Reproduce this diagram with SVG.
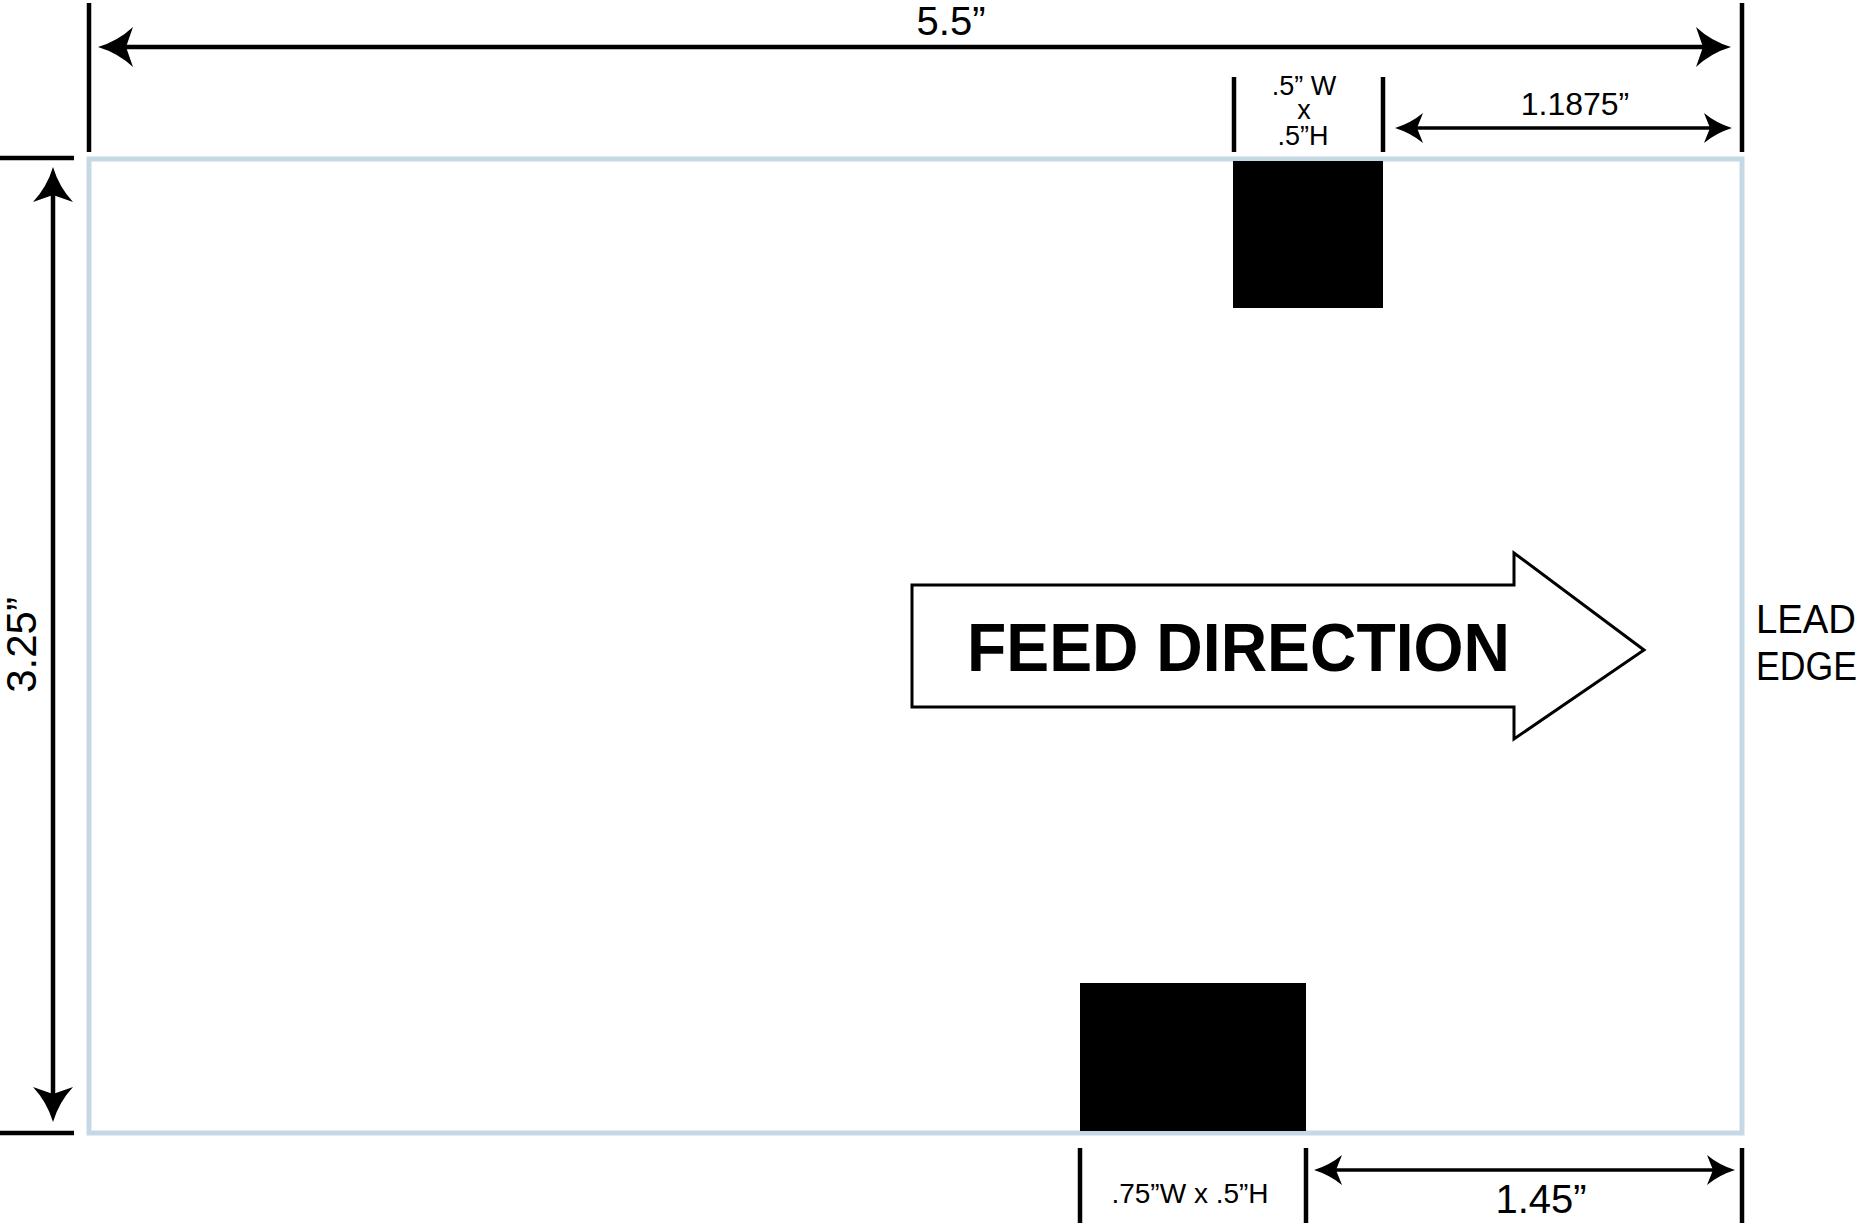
<svg xmlns="http://www.w3.org/2000/svg" width="1867" height="1223" viewBox="0 0 1867 1223">
<style>
.ext{stroke:#000;stroke-width:4.5;fill:none}
.dim{stroke:#000;stroke-width:4.5;fill:none}
.dims{stroke:#000;stroke-width:3.5;fill:none}
.t{font-family:"Liberation Sans",Arial,Helvetica,sans-serif;fill:#000}
</style>
<defs>
<marker id="ab" markerUnits="userSpaceOnUse" viewBox="-40 -22 44 44" markerWidth="44" markerHeight="44" refX="-10" refY="0" orient="auto-start-reverse">
<path d="M0,0 Q-20,-6 -35,-20 L-28,0 L-35,20 Q-20,6 0,0 Z" fill="#000"/>
</marker>
<marker id="as" markerUnits="userSpaceOnUse" viewBox="-32 -17 36 34" markerWidth="36" markerHeight="34" refX="-8" refY="0" orient="auto-start-reverse">
<path d="M0,0 Q-16,-5 -28,-15 L-22,0 L-28,15 Q-16,5 0,0 Z" fill="#000"/>
</marker>
</defs>
<rect width="1867" height="1223" fill="#fff"/>

<g id="card">
<rect x="89" y="159" width="1653" height="974" fill="#fff" stroke="#c5d9e5" stroke-width="5"/>
</g>

<g id="mark-top">
<rect x="1233" y="161" width="150" height="147" fill="#000"/>
</g>
<g id="mark-bottom">
<rect x="1080" y="983" width="226" height="148" fill="#000"/>
</g>

<g id="feed-arrow">
<polygon points="912,585 1514,585 1514,553 1644,650 1514,739 1514,707 912,707" fill="#fff" stroke="#000" stroke-width="3"/>
<text class="t" x="967" y="671" font-size="68" font-weight="bold" textLength="543" lengthAdjust="spacingAndGlyphs">FEED DIRECTION</text>
</g>

<g id="lead-edge">
<text class="t" x="1756" y="633" font-size="40" textLength="100" lengthAdjust="spacingAndGlyphs">LEAD</text>
<text class="t" x="1756" y="680" font-size="40" textLength="101" lengthAdjust="spacingAndGlyphs">EDGE</text>
</g>

<g id="connectors">
<line class="ext" x1="89" y1="3" x2="89" y2="152"/>
<line class="ext" x1="1742" y1="3" x2="1742" y2="152"/>
<line class="ext" x1="1234" y1="77" x2="1234" y2="152"/>
<line class="ext" x1="1383" y1="77" x2="1383" y2="152"/>
<line class="ext" x1="0" y1="158" x2="74" y2="158"/>
<line class="ext" x1="0" y1="1133" x2="74" y2="1133"/>
<line class="ext" x1="1080" y1="1148" x2="1080" y2="1223"/>
<line class="ext" x1="1306" y1="1148" x2="1306" y2="1223"/>
<line class="ext" x1="1742" y1="1148" x2="1742" y2="1223"/>
<line class="dim" x1="108" y1="47" x2="1721" y2="47" marker-start="url(#ab)" marker-end="url(#ab)"/>
<line class="dim" x1="53" y1="177" x2="53" y2="1112" marker-start="url(#ab)" marker-end="url(#ab)"/>
<line class="dims" x1="1403" y1="128" x2="1724" y2="128" marker-start="url(#as)" marker-end="url(#as)"/>
<line class="dims" x1="1322" y1="1170" x2="1727" y2="1170" marker-start="url(#as)" marker-end="url(#as)"/>
</g>

<g id="labels">
<text class="t" x="951" y="35" font-size="40" text-anchor="middle">5.5”</text>
<text class="t" transform="translate(36,645) rotate(-90)" font-size="42" text-anchor="middle">3.25”</text>
<text class="t" font-size="27" text-anchor="middle"><tspan x="1304" y="95">.5” W</tspan><tspan x="1304" y="119">x</tspan><tspan x="1303" y="145">.5”H</tspan></text>
<text class="t" x="1575" y="115" font-size="32" text-anchor="middle">1.1875”</text>
<text class="t" x="1190" y="1203" font-size="28" text-anchor="middle">.75”W x .5”H</text>
<text class="t" x="1541" y="1213" font-size="40" text-anchor="middle">1.45”</text>
</g>
</svg>
